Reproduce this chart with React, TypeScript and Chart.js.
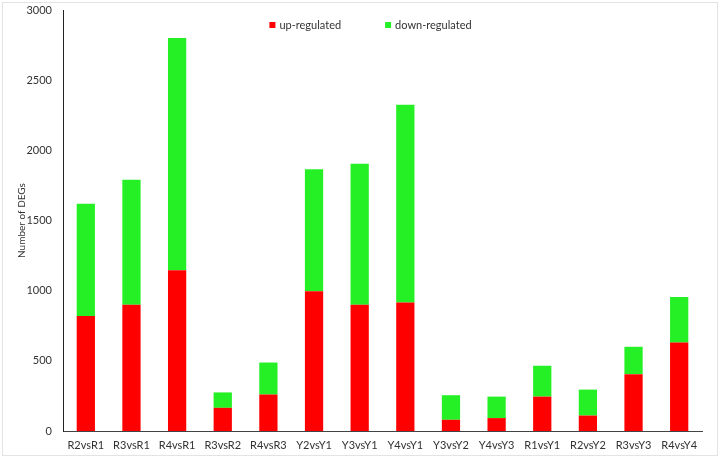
import React, { useEffect, useRef } from "react";
import { Chart, registerables } from "chart.js";

Chart.register(...registerables);

const categories = [
  "R2vsR1", "R3vsR1", "R4vsR1", "R3vsR2", "R4vsR3", "Y2vsY1", "Y3vsY1",
  "Y4vsY1", "Y3vsY2", "Y4vsY3", "R1vsY1", "R2vsY2", "R3vsY3", "R4vsY4",
];
const upRegulated = [820, 900, 1145, 165, 260, 995, 900, 915, 80, 92, 245, 110, 405, 630];
const downRegulated = [800, 890, 1655, 110, 228, 870, 1005, 1410, 175, 153, 220, 185, 195, 325];
const yTicks = [0, 500, 1000, 1500, 2000, 2500, 3000];

const FONT = "Lato, 'Open Sans', sans-serif";

const framePlugin = {
  id: "frame",
  beforeDraw(chart: any) {
    const { ctx, width, height } = chart;
    ctx.save();
    ctx.fillStyle = "#ffffff";
    ctx.fillRect(0, 0, width, height);
    ctx.strokeStyle = "#e3e3e3";
    ctx.lineWidth = 1;
    ctx.strokeRect(2.5, 2.5, width - 5, height - 5);
    ctx.restore();
  },
};

const legendPlugin = {
  id: "customLegend",
  afterDraw(chart: any) {
    const { ctx, chartArea } = chart;
    const ds = chart.data.datasets;
    const cx = (chartArea.left + chartArea.right) / 2 - 12;
    const y = chartArea.top + 15;
    const box = 6;
    const gap = 44;
    ctx.save();
    ctx.font = `11px ${FONT}`;
    ctx.textBaseline = "middle";
    ctx.textAlign = "left";
    const widths = ds.map((d: any) => box + 4 + ctx.measureText(d.label).width);
    const total = widths.reduce((a: number, b: number) => a + b, 0) + gap * (ds.length - 1);
    let x = cx - total / 2;
    ds.forEach((d: any, i: number) => {
      ctx.fillStyle = d.backgroundColor;
      ctx.fillRect(x, y - box / 2, box, box);
      ctx.fillStyle = "#333333";
      ctx.fillText(d.label, x + box + 4, y);
      x += widths[i] + gap;
    });
    ctx.restore();
  },
};

export default function App() {
  const ref = useRef<HTMLCanvasElement>(null);

  useEffect(() => {
    if (!ref.current) return;
    const chart = new Chart(ref.current, {
      type: "bar",
      data: {
        labels: categories,
        datasets: [
          {
            label: "up-regulated",
            data: upRegulated,
            backgroundColor: "#ff0000",
            barPercentage: 0.4,
            categoryPercentage: 1,
          },
          {
            label: "down-regulated",
            data: downRegulated,
            backgroundColor: "#25f025",
            barPercentage: 0.4,
            categoryPercentage: 1,
          },
        ],
      },
      options: {
        responsive: false,
        animation: false,
        layout: { padding: { top: 10, right: 18, bottom: 0, left: 0 } },
        plugins: {
          legend: { display: false },
          tooltip: { enabled: false },
        },
        scales: {
          x: {
            stacked: true,
            grid: { display: false, drawTicks: false },
            border: { display: true, color: "#444444", width: 1 },
            ticks: {
              font: { family: FONT, size: 11 },
              color: "#333333",
              padding: 8,
              maxRotation: 0,
              autoSkip: false,
            },
            afterFit(scale: any) {
              scale.height = 27;
            },
          },
          y: {
            stacked: true,
            min: 0,
            max: 3000,
            grid: { display: false, drawTicks: false },
            border: { display: true, color: "#222222", width: 1 },
            afterBuildTicks(scale: any) {
              scale.ticks = yTicks.map((v) => ({ value: v }));
            },
            ticks: {
              font: { family: FONT, size: 11 },
              color: "#333333",
              padding: 11,
              callback: (v: any) => String(v),
            },
            title: {
              display: true,
              text: "Number of DEGs",
              font: { family: FONT, size: 10 },
              color: "#333333",
              padding: { top: 16, bottom: 0 },
            },
            afterFit(scale: any) {
              scale.width = 63;
              scale.paddingTop = 0;
              scale.paddingBottom = 0;
            },
          },
        },
      },
      plugins: [framePlugin, legendPlugin],
    });
    return () => chart.destroy();
  }, []);

  return (
    <div style={{ position: "fixed", left: 0, top: 0, width: 720, height: 458 }}>
      <canvas ref={ref} width={720} height={458} />
    </div>
  );
}
